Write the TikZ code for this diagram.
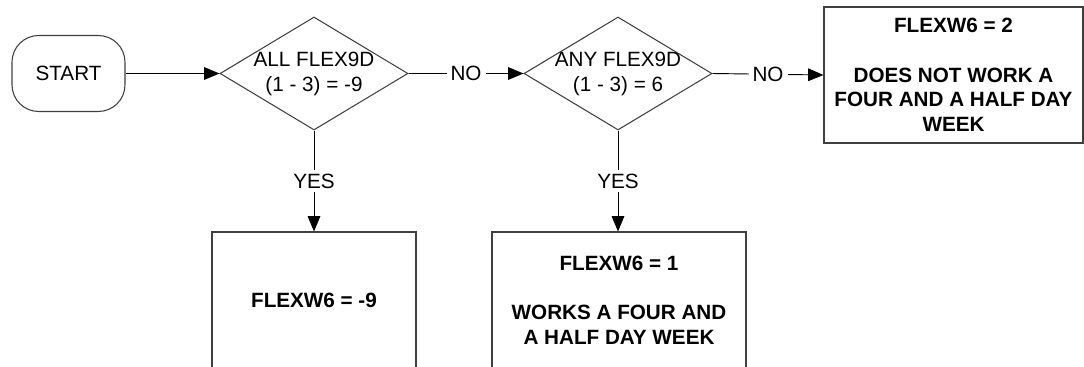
\documentclass[tikz,border=0pt]{standalone}
\usepackage{fontspec}
\setmainfont{Liberation Sans}
\usetikzlibrary{arrows.meta,shapes.geometric}
\begin{document}
\begin{tikzpicture}[x=0.75pt,y=-0.75pt,
  every node/.style={font=\fontsize{15.5pt}{18.75pt}\selectfont},
  shapeline/.style={draw=black!75, line width=0.8pt},
  startbox/.style={shapeline, rectangle, rounded corners=20pt, minimum width=84.75pt, minimum height=57pt, inner sep=0pt},
  dia/.style={shapeline, diamond, minimum width=141pt, minimum height=84.75pt, inner sep=0pt},
  dtext/.style={align=center, inner sep=0pt},
  resbox/.style={shapeline, rectangle, minimum height=102pt, inner sep=0pt, align=center, font=\fontsize{15.5pt}{18.5pt}\selectfont\bfseries},
  conn/.style={draw=black, line width=0.7pt, -{Triangle[length=11.5pt,width=9.5pt]}},
  lbl/.style={fill=white, inner sep=3pt, pos=0.5}
]
\useasboundingbox (0,0) rectangle (1084,367);

\node[startbox] (start) at (68.5,73.5) {START};

\node[dia] (d1) at (314,73.5) {};
\node[dtext] (d1t) at (314,74) {ALL FLEX9D\\(1 - 3) = -9};

\node[dia] (d2) at (618,73.5) {};
\node[dtext] (d2t) at (618,74) {ANY FLEX9D\\(1 - 3) = 6};

\node[resbox, minimum width=194.25pt] (b3) at (953.5,75) {FLEXW6 = 2\\[18.5pt]DOES NOT WORK A\\FOUR AND A HALF DAY\\WEEK};
\node[resbox, minimum width=153pt] (b1) at (314,300) {FLEXW6 = -9};
\node[resbox, minimum width=190.5pt] (b2) at (619,300) {FLEXW6 = 1\\[18.5pt]WORKS A FOUR AND\\A HALF DAY WEEK};

\draw[conn] (start.east) -- (d1.west);
\draw[conn] (d1.east) -- node[lbl] (no1) {NO} (d2.west);
\draw[conn] (d2.east) -- node[lbl] (no2) {NO} (b3.west);
\draw[conn] (d1.south) -- node[lbl] (yes1) {YES} (b1.north);
\draw[conn] (d2.south) -- node[lbl] (yes2) {YES} (d2.south |- b2.north);
\end{tikzpicture}
\end{document}
